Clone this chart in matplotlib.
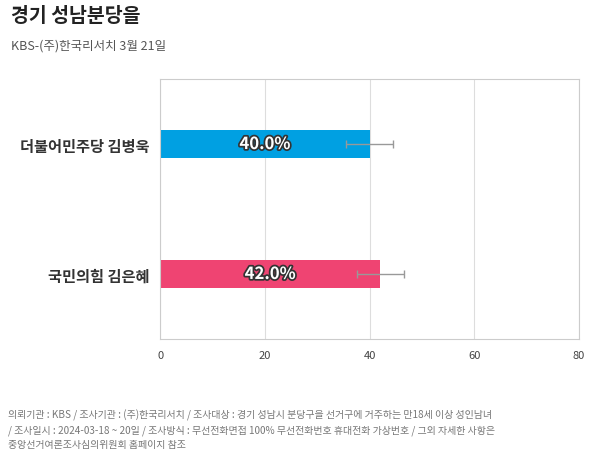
import matplotlib
matplotlib.use("Agg")
import matplotlib.pyplot as plt
import matplotlib.patheffects as pe
from matplotlib import font_manager

names = {f.name for f in font_manager.fontManager.ttflist}
fams = [n for n in ["Noto Sans CJK KR", "Noto Sans CJK JP", "Noto Sans CJK SC", "Noto Sans CJK TC"] if n in names]
plt.rcParams["font.family"] = fams + ["DejaVu Sans"]

candidates = ["더불어민주당 김병욱", "국민의힘 김은혜"]
values = [40.0, 42.0]
errors = [4.5, 4.5]
colors = ["#00a0e2", "#ef4472"]
xticks = [0, 20, 40, 60, 80]

fig = plt.figure(figsize=(6, 4.6), dpi=100)
ax = fig.add_axes([0.267, 0.261, 0.698, 0.565])
ypos = list(range(len(candidates)))
ax.barh(ypos, values, height=0.22, color=colors, zorder=2)
ax.errorbar(values, ypos, xerr=errors, fmt="none", ecolor="#999999",
            elinewidth=1, capsize=3, zorder=3)
for y, v in zip(ypos, values):
    ax.text(v / 2, y, f"{v:.1f}%", ha="center", va="center", color="white",
            fontsize=12, fontweight="bold", zorder=4,
            path_effects=[pe.withStroke(linewidth=2.5, foreground="#333333")])
ax.set_xlim(0, 80)
ax.set_ylim(1.5, -0.5)
ax.set_xticks(xticks)
ax.set_xticklabels([str(t) for t in xticks], fontsize=8, color="#444444")
ax.set_yticks(ypos)
ax.set_yticklabels(candidates, fontsize=11, fontweight="bold", color="#333333")
ax.tick_params(length=0, pad=8)
ax.grid(axis="x", color="#dddddd", linewidth=0.8, zorder=0)
for s in ax.spines.values():
    s.set_color("#cccccc")
    s.set_linewidth(0.8)

fig.text(0.018, 0.965, "경기 성남분당을", fontsize=14, fontweight="bold", color="#222222", va="center")
fig.text(0.018, 0.9, "KBS-(주)한국리서치 3월 21일", fontsize=9, color="#555555", va="center")
foot = ("의뢰기관 : KBS / 조사기관 : (주)한국리서치 / 조사대상 : 경기 성남시 분당구을 선거구에 거주하는 만18세 이상 성인남녀\n"
        "/ 조사일시 : 2024-03-18 ~ 20일 / 조사방식 : 무선전화면접 100% 무선전화번호 휴대전화 가상번호 / 그외 자세한 사항은\n"
        "중앙선거여론조사심의위원회 홈페이지 참조")
fig.text(0.013, 0.022, foot, fontsize=7.2, color="#777777", va="bottom", linespacing=1.5)
fig.savefig("out.png", dpi=100)
